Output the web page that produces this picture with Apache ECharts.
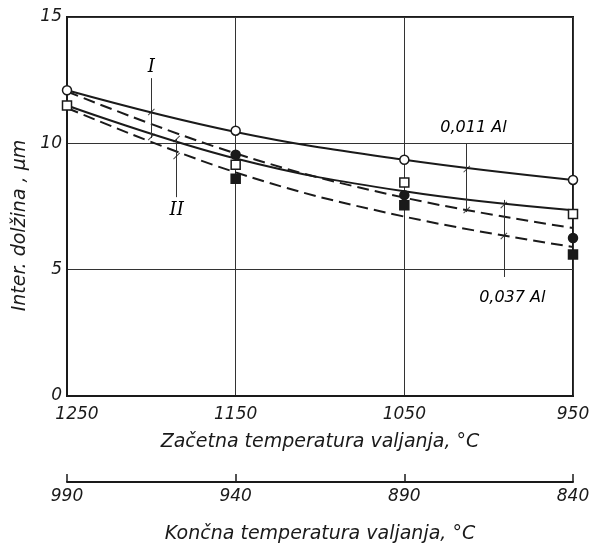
<!DOCTYPE html>
<html>
<head>
<meta charset="utf-8">
<script src="https://cdn.jsdelivr.net/npm/echarts@6/dist/echarts.min.js"></script>
<style>html,body{margin:0;padding:0;background:#fff}#c{width:592px;height:544px}</style>
</head>
<body>
<div id="c"></div>
<script>
// Start rolling temperature (°C), primary x axis
const startTemps = [1250, 1150, 1050, 950];
// Finish rolling temperature tick labels (°C), secondary axis
const finishTemps = [990, 940, 890, 840];
const yTicks = [0, 5, 10, 15];

// Fitted curves (µm)
const curveI_011 = [12.1, 10.45, 9.35, 8.55];
const curveI_037 = [11.5, 9.4, 8.1, 7.35];
const curveII_011 = [12.05, 9.6, 7.85, 6.65];
const curveII_037 = [11.4, 8.85, 7.1, 5.9];

// Measured points
const openCircleT = [1250, 1150, 1050, 950];
const openCircleV = [12.1, 10.5, 9.35, 8.55];
const openSquareT = [1250, 1150, 1050, 950];
const openSquareV = [11.5, 9.15, 8.45, 7.2];
const filledCircleT = [1150, 1050, 950];
const filledCircleV = [9.55, 7.95, 6.25];
const filledSquareT = [1150, 1050, 950];
const filledSquareV = [8.6, 7.55, 5.6];

// Annotation leader lines: [x, yFrom, yTo]
const leaderI = [1200, 12.58, 10.21];
const leaderII = [1185, 10.17, 7.87];
const leader011 = [1013, 10.01, 7.28];
const leader037 = [991, 7.76, 4.71];
// Tick crosses on curves
const crossT = [1200, 1200, 1185, 1185, 1013, 1013, 991, 991];
const crossV = [11.24, 10.25, 10.17, 9.5, 8.98, 7.36, 7.56, 6.33];
// Annotation labels
const labelText = ['I', 'II', '0,011 Al', '0,037 Al'];
const labelT = [1200, 1185, 1009, 986];
const labelV = [13.0, 7.35, 10.6, 3.9];

const zip = (a, b) => a.map((v, i) => [v, b[i]]);
const font = 'DejaVu Sans';
const txt = { fontFamily: font, fontStyle: 'italic', color: '#1a1a1a', fontSize: 16 };
const ink = '#1a1a1a';

const lineSeries = (name, data, dashed) => ({
  name, type: 'line', smooth: 0.4, symbol: 'none', data: zip(startTemps, data),
  lineStyle: { color: ink, width: 2, type: dashed ? [12, 6] : 'solid' },
  z: 3, silent: true
});
const markerSeries = (t, v, symbol, filled) => ({
  type: 'scatter', data: zip(t, v), symbol, symbolSize: 9,
  itemStyle: { color: filled ? ink : '#fff', borderColor: ink, borderWidth: 1.5, opacity: 1 },
  z: 5, silent: true
});
const leader = (l) => [{ coord: [l[0], l[1]] }, { coord: [l[0], l[2]] }];

const chart = echarts.init(document.getElementById('c'), null, { renderer: 'canvas' });
chart.setOption({
  animation: false,
  grid: { left: 67, right: 19, top: 17, bottom: 148, outerBoundsMode: 'none', containLabel: false, show: true, borderColor: ink, borderWidth: 2, backgroundColor: 'transparent' },
  xAxis: [{
    type: 'value', min: 950, max: 1250, interval: 100, inverse: true,
    name: 'Začetna temperatura valjanja, °C', nameLocation: 'middle', nameGap: 37,
    nameTextStyle: Object.assign({}, txt, { fontSize: 19 }),
    axisLine: { show: true, lineStyle: { color: ink, width: 2 } },
    axisTick: { show: false },
    axisLabel: Object.assign({}, txt, {
      fontSize: 17, margin: 10,
      formatter: v => !startTemps.includes(v) ? '' : (v === startTemps[0] ? '{f|' + v + '}' : String(v)),
      rich: { f: Object.assign({}, txt, { fontSize: 17, padding: [0, 0, 0, 20] }) }
    }),
    splitLine: { show: true, lineStyle: { color: '#333', width: 1 } }
  }, {
    type: 'value', position: 'bottom', offset: 86, min: 840, max: 990, interval: 50, inverse: true,
    name: 'Končna temperatura valjanja, °C', nameLocation: 'middle', nameGap: 43,
    nameTextStyle: Object.assign({}, txt, { fontSize: 19 }),
    axisLine: { show: true, lineStyle: { color: ink, width: 2 } },
    axisTick: { show: true, inside: true, length: 8, lineStyle: { color: ink, width: 1.5 } },
    axisLabel: Object.assign({}, txt, { fontSize: 17, margin: 6, formatter: v => finishTemps.includes(v) ? String(v) : '' }),
    splitLine: { show: false }
  }],
  yAxis: {
    type: 'value', min: 0, max: 15, interval: 5,
    name: 'Inter. dolžina , µm', nameLocation: 'middle', nameGap: 37,
    nameTextStyle: Object.assign({}, txt, { fontSize: 19, padding: [0, 0, 0, -38] }),
    axisLine: { show: true, lineStyle: { color: ink, width: 2 } },
    axisTick: { show: false },
    axisLabel: Object.assign({}, txt, { fontSize: 17, margin: 5, formatter: v => yTicks.includes(v) ? String(v) : '' }),
    splitLine: { show: true, lineStyle: { color: '#333', width: 1 } }
  },
  series: [
    lineSeries('I 0,011 Al', curveI_011, false),
    lineSeries('I 0,037 Al', curveI_037, false),
    lineSeries('II 0,011 Al', curveII_011, true),
    lineSeries('II 0,037 Al', curveII_037, true),
    markerSeries(openCircleT, openCircleV, 'circle', false),
    markerSeries(openSquareT, openSquareV, 'rect', false),
    markerSeries(filledCircleT, filledCircleV, 'circle', true),
    markerSeries(filledSquareT, filledSquareV, 'rect', true),
    {
      type: 'scatter', data: zip(crossT, crossV), silent: true, z: 6,
      symbol: 'path://M0,9 L9,0 L10,1 L1,10 Z', symbolSize: 7,
      itemStyle: { color: ink },
      markLine: {
        silent: true, symbol: 'none', label: { show: false },
        lineStyle: { color: '#333', width: 1, type: 'solid' },
        data: [leader(leaderI), leader(leaderII), leader(leader011), leader(leader037)]
      }
    },
    {
      type: 'scatter', data: labelT.map((t, i) => ({
        value: [t, labelV[i]], name: labelText[i],
        label: i < 2 ? { fontFamily: 'DejaVu Serif', fontSize: 18 } : {}
      })),
      symbolSize: 0, silent: true, z: 7,
      itemStyle: { color: '#000', opacity: 1 },
      label: Object.assign({ show: true, position: 'inside', formatter: p => p.name }, txt,
        { fontSize: 16, color: '#000', opacity: 1, textBorderWidth: 0, backgroundColor: '#fff' })
    }
  ]
});
</script>
</body>
</html>
